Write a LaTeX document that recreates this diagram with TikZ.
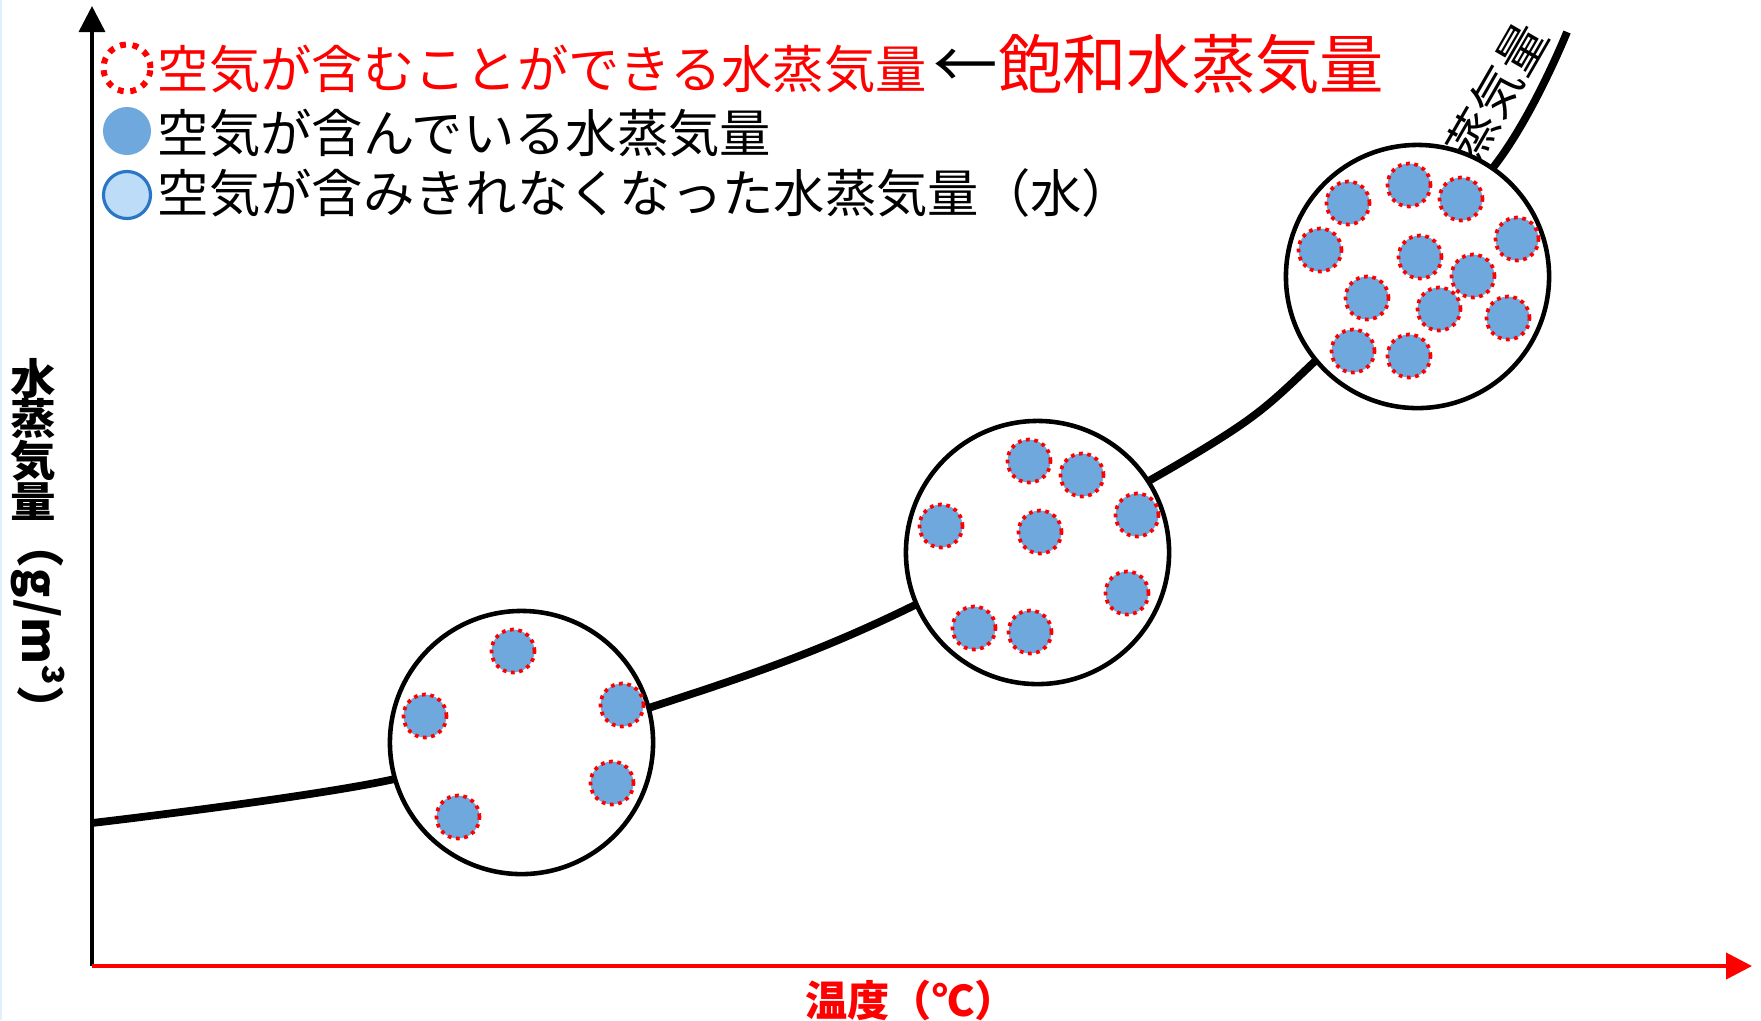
\documentclass[tikz,border=0pt]{standalone}
\usepackage{fontspec}
\setmainfont{Noto Sans CJK JP}
\usetikzlibrary{arrows.meta}
\definecolor{wblue}{RGB}{111,168,220}
\definecolor{lblue}{RGB}{189,220,248}
\definecolor{dblue}{RGB}{40,118,196}
\definecolor{edgeblue}{RGB}{222,240,252}
\begin{document}
\begin{tikzpicture}[x=0.01cm,y=-0.01cm,
  bigc/.style={circle, draw=black, fill=white, line width=1.3pt, minimum size=2.63cm, inner sep=0pt},
  vap/.style={circle, fill=wblue, draw=red, line width=1.05pt, dash pattern=on 1.05pt off 1.3pt, minimum size=0.43cm, inner sep=0pt},
  legtxt/.style={anchor=west, inner sep=0pt, font=\fontsize{14.6}{17}\selectfont},
  ttltxt/.style={anchor=west, inner sep=0pt, font=\fontsize{18.3}{21}\selectfont},
  labtxt/.style={inner sep=0pt, font=\fontsize{12}{14}\selectfont\bfseries},
  tip/.style={-{Triangle[length=7.4pt,width=7.4pt]}}]
\useasboundingbox (0,0) rectangle (1761,1020);
\fill[white] (0,0) rectangle (1761,1020);
\draw[edgeblue, line width=0.8pt] (1,0) -- (1,1020);
% axes
\coordinate (O) at (92,966);
\coordinate (ytip) at (92,6);
\coordinate (xtip) at (1752,966);
\draw[tip, line width=1pt, black] (O) -- (ytip);
\draw[tip, line width=1.15pt, red] (O) -- (xtip);
% curve
\draw[line width=2.2pt] plot[smooth, tension=0.55] coordinates {(92,823) (390,780) (670,701) (890,617) (1190,457) (1313,363) (1495,165) (1567,32)};
\node[inner sep=0pt, font=\fontsize{14}{16}\selectfont, rotate=60] (clab) at (1497,92) {蒸気量};
% big circles
\node[bigc] (c1) at (521.5,742.5) {};
\node[bigc] (c2) at (1037.5,552.5) {};
\node[bigc] (c3) at (1417.5,276.5) {};
% vapour in circle 1
\foreach \x/\y [count=\i] in {513/651, 425/716, 622/705, 612/783, 458/817}
  \node[vap] (a\i) at (\x,\y) {};
% circle 2
\foreach \x/\y [count=\i] in {1029/461, 1082/475, 941/526, 1040/532, 1137/515, 1127/593, 974/628, 1030/632}
  \node[vap] (b\i) at (\x,\y) {};
% circle 3
\foreach \x/\y [count=\i] in {1348/203, 1409/185, 1461/199, 1320/250, 1420/257, 1517/239, 1473/276, 1367/298, 1439/309, 1508/318, 1353/351, 1409/356}
  \node[vap] (d\i) at (\x,\y) {};
% legend
\node[circle, draw=red, line width=1.7pt, dash pattern=on 1.7pt off 1.9pt, minimum size=0.47cm, inner sep=0pt] (s1) at (127,68) {};
\node[circle, fill=wblue, minimum size=0.48cm, inner sep=0pt] (s2) at (127,131) {};
\node[circle, fill=lblue, draw=dblue, line width=0.9pt, minimum size=0.47cm, inner sep=0pt] (s3) at (127,195) {};
\node[legtxt, text=red] (l1) at (157,69) {空気が含むことができる水蒸気量};
\node[legtxt] (l2) at (157,133) {空気が含んでいる水蒸気量};
\node[legtxt] (l3) at (157,193) {空気が含みきれなくなった水蒸気量（水）};
\node[ttltxt] (ttl) at (933,64) {←\textcolor{red}{飽和水蒸気量}};
% axis labels
\node[labtxt] (y1) at (33,378) {\scalebox{1.08}[1]{水}};
\node[labtxt] (y2) at (33,419) {\scalebox{1.08}[1]{蒸}};
\node[labtxt] (y3) at (33,461) {\scalebox{1.08}[1]{気}};
\node[labtxt] (y4) at (33,502) {\scalebox{1.08}[1]{量}};
\node[labtxt, font=\fontsize{13.6}{15}\selectfont\bfseries, rotate=-90] (y5) at (38,627) {（g/m³）};
\node[labtxt, text=red] (xl) at (911,1000) {温度（℃）};
\end{tikzpicture}
\end{document}
